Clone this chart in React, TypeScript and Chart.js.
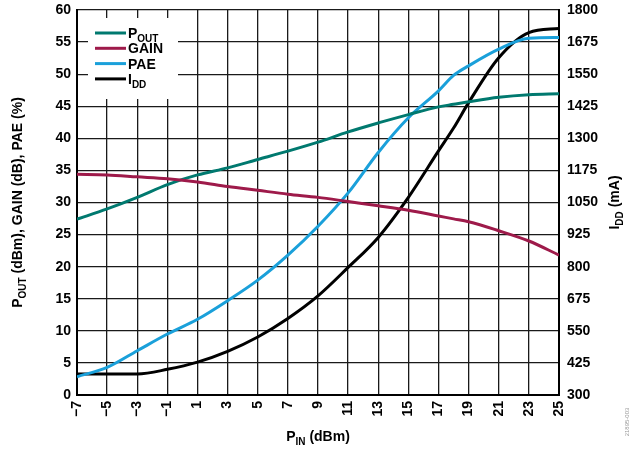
import React, { useEffect, useRef } from "react";
import { Chart, registerables } from "chart.js";

Chart.register(...registerables);

const PIN = [-7, -5, -3, -1, 1, 3, 5, 7, 9, 11, 13, 15, 17, 18, 19, 21, 23, 25];
const POUT = [27.4, 29.0, 30.8, 32.8, 34.3, 35.4, 36.7, 38.0, 39.4, 41.0, 42.4, 43.7, 44.9, 45.3, 45.7, 46.4, 46.8, 46.95];
const GAIN = [34.4, 34.3, 34.0, 33.7, 33.2, 32.5, 31.9, 31.3, 30.8, 30.15, 29.5, 28.8, 27.9, 27.45, 27.0, 25.6, 24.0, 21.8];
const PAE = [2.85, 4.3, 6.9, 9.5, 11.8, 14.7, 17.9, 21.8, 26.3, 31.5, 37.8, 43.2, 47.4, 49.8, 51.3, 53.9, 55.6, 55.7];
const IDD = [382, 382, 382, 400, 428, 470, 526, 598, 686, 797, 914, 1070, 1251, 1340, 1439, 1614, 1712, 1728];

const X_TICKS = [-7, -5, -3, -1, 1, 3, 5, 7, 9, 11, 13, 15, 17, 19, 21, 23, 25];

const COLORS = { pout: "#00796f", gain: "#9e1a4a", pae: "#1aa0da", idd: "#000000" };

type Part = { t: string; sub?: boolean };
const MAIN = 'bold 14px "Liberation Sans", Arial, sans-serif';
const SUB = 'bold 10px "Liberation Sans", Arial, sans-serif';

function partsWidth(ctx: CanvasRenderingContext2D, parts: Part[]) {
  let w = 0;
  for (const p of parts) {
    ctx.font = p.sub ? SUB : MAIN;
    w += ctx.measureText(p.t).width;
  }
  return w;
}
function drawParts(ctx: CanvasRenderingContext2D, parts: Part[], x: number, y: number) {
  let cx = x;
  ctx.textBaseline = "alphabetic";
  ctx.textAlign = "left";
  for (const p of parts) {
    ctx.font = p.sub ? SUB : MAIN;
    ctx.fillText(p.t, cx, p.sub ? y + 4 : y);
    cx += ctx.measureText(p.t).width;
  }
}

const LEGEND: { parts: Part[]; color: string }[] = [
  { parts: [{ t: "P" }, { t: "OUT", sub: true }], color: COLORS.pout },
  { parts: [{ t: "GAIN" }], color: COLORS.gain },
  { parts: [{ t: "PAE" }], color: COLORS.pae },
  { parts: [{ t: "I" }, { t: "DD", sub: true }], color: COLORS.idd },
];

const decor = {
  id: "decor",
  beforeDatasetsDraw(chart: any) {
    const ctx = chart.ctx as CanvasRenderingContext2D;
    const a = chart.chartArea;
    ctx.save();
    ctx.fillStyle = "#fff";
    ctx.fillRect(a.left + 11, a.top + 8, 90, 81);
    LEGEND.forEach((it, i) => {
      const y = a.top + 23 + i * 15.3;
      ctx.strokeStyle = it.color;
      ctx.lineWidth = 3;
      ctx.beginPath();
      ctx.moveTo(a.left + 18, y);
      ctx.lineTo(a.left + 49, y);
      ctx.stroke();
      ctx.fillStyle = "#000";
      drawParts(ctx, it.parts, a.left + 51, y + 5);
    });
    ctx.restore();
  },
  afterDraw(chart: any) {
    const ctx = chart.ctx as CanvasRenderingContext2D;
    const a = chart.chartArea;
    const cy = (a.top + a.bottom) / 2;
    ctx.save();
    ctx.fillStyle = "#000";
    const xt: Part[] = [{ t: "P" }, { t: "IN", sub: true }, { t: " (dBm)" }];
    const xw = partsWidth(ctx, xt);
    drawParts(ctx, xt, (a.left + a.right) / 2 - xw / 2, 441);
    const lt: Part[] = [
      { t: "P" }, { t: "OUT", sub: true }, { t: " (dBm), GAIN (dB), PAE (%)" },
    ];
    ctx.save();
    ctx.translate(22, cy);
    ctx.rotate(-Math.PI / 2);
    drawParts(ctx, lt, -partsWidth(ctx, lt) / 2, 0);
    ctx.restore();
    const rt: Part[] = [{ t: "I" }, { t: "DD", sub: true }, { t: " (mA)" }];
    ctx.save();
    ctx.translate(619, cy);
    ctx.rotate(-Math.PI / 2);
    drawParts(ctx, rt, -partsWidth(ctx, rt) / 2, 0);
    ctx.restore();
    ctx.save();
    ctx.translate(629, 422);
    ctx.rotate(-Math.PI / 2);
    ctx.font = '6px "Liberation Sans", Arial, sans-serif';
    ctx.fillStyle = "#9a9a9a";
    ctx.textAlign = "center";
    ctx.fillText("21895-003", 0, 0);
    ctx.restore();
    ctx.restore();
  },
};

const fmt = (v: number) => (v < 0 ? "\u2212" + Math.abs(v) : String(v));

export default function App() {
  const ref = useRef<HTMLCanvasElement>(null);
  useEffect(() => {
    const tickFont = { family: '"Liberation Sans", Arial, sans-serif', size: 14, weight: "bold" as const };
    const grid = { color: "#1a1a1a", lineWidth: 1.3, drawTicks: false };
    const border = { color: "#000", width: 2 };
    const mk = (label: string, ys: number[], color: string, axis: string) => ({
      label,
      data: PIN.map((x, i) => ({ x, y: ys[i] })),
      borderColor: color,
      backgroundColor: color,
      borderWidth: 3,
      pointRadius: 0,
      cubicInterpolationMode: "monotone" as const,
      yAxisID: axis,
    });
    const noPad = (s: any) => {
      s.paddingTop = 0;
      s.paddingBottom = 0;
      s.paddingLeft = 0;
      s.paddingRight = 0;
    };
    const chart = new Chart(ref.current!, {
      type: "line",
      data: {
        datasets: [
          mk("GAIN", GAIN, COLORS.gain, "y"),
          mk("POUT", POUT, COLORS.pout, "y"),
          mk("PAE", PAE, COLORS.pae, "y"),
          mk("IDD", IDD, COLORS.idd, "y1"),
        ],
      },
      options: {
        animation: false,
        responsive: false,
        maintainAspectRatio: false,
        layout: { padding: { top: 10, left: 0, right: 0, bottom: 0 } },
        plugins: { legend: { display: false }, tooltip: { enabled: false } },
        scales: {
          x: {
            type: "linear",
            min: -7,
            max: 25,
            grid,
            border,
            afterBuildTicks: (s: any) => {
              s.ticks = X_TICKS.map((v) => ({ value: v }));
            },
            afterFit: (s: any) => {
              s.height = 55;
              noPad(s);
            },
            ticks: {
              autoSkip: false,
              minRotation: 90,
              maxRotation: 90,
              padding: 6,
              color: "#000",
              font: tickFont,
              callback: (v: any) => fmt(Number(v)),
            },
          },
          y: {
            position: "left",
            min: 0,
            max: 60,
            grid,
            border,
            afterFit: (s: any) => {
              s.width = 77;
              noPad(s);
            },
            ticks: { stepSize: 5, padding: 6, color: "#000", font: tickFont, callback: (v: any) => String(v) },
          },
          y1: {
            position: "right",
            min: 300,
            max: 1800,
            grid: { display: false, drawTicks: false },
            border,
            afterFit: (s: any) => {
              s.width = 72;
              noPad(s);
            },
            ticks: { stepSize: 125, padding: 8, color: "#000", font: tickFont, callback: (v: any) => String(v) },
          },
        },
      },
      plugins: [decor],
    });
    return () => chart.destroy();
  }, []);
  return (
    <div style={{ position: "fixed", left: 0, top: 0, width: 631, height: 450, background: "#fff" }}>
      <canvas ref={ref} width={631} height={450} style={{ width: 631, height: 450 }} />
    </div>
  );
}
